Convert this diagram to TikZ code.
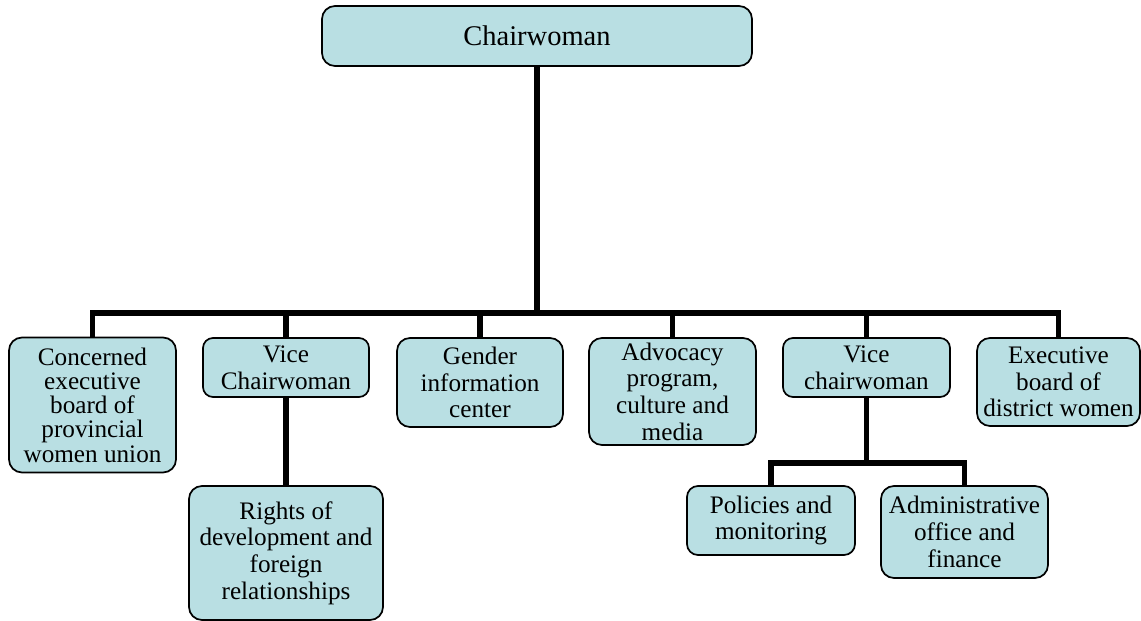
\documentclass[tikz,border=0pt]{standalone}
\usepackage{fontspec}
\setmainfont{Liberation Serif}
\definecolor{boxfill}{RGB}{185,223,227}
\tikzset{
  orgbox/.style={draw=black, line width=1.7pt, fill=boxfill, rounded corners=13pt,
    align=center, inner sep=0pt, font=\fontsize{25.2}{26.7}\selectfont},
  conn/.style={draw=black, line width=5.5pt, line join=miter}
}
\begin{document}
\begin{tikzpicture}[x=1pt,y=-1pt]
\useasboundingbox (0,0) rectangle (1141,621);

% boxes
\node[orgbox, minimum width=430, minimum height=60, font=\fontsize{28.5}{30}\selectfont] (chair) at (537,36) {Chairwoman};
\node[orgbox, minimum width=167, minimum height=135, font=\fontsize{25.2}{24.2}\selectfont] (concerned) at (92.5,405) {Concerned\\executive\\board of\\provincial\\women union};
\node[orgbox, minimum width=166, minimum height=59, rounded corners=10pt] (vice1) at (286,367.5) {Vice\\Chairwoman};
\node[orgbox, minimum width=166, minimum height=89] (gender) at (480,382.5) {Gender\\information\\center};
\node[orgbox, minimum width=167, minimum height=107] (advocacy) at (672.5,391.5) {Advocacy\\program,\\culture and\\media};
\node[orgbox, minimum width=167, minimum height=59, rounded corners=10pt] (vice2) at (866.5,367.5) {Vice\\chairwoman};
\node[orgbox, minimum width=163, minimum height=88] (exec) at (1058.5,382) {Executive\\board of\\district women};
\node[orgbox, minimum width=194, minimum height=134] (rights) at (286,553) {Rights of\\development and\\foreign\\relationships};
\node[orgbox, minimum width=168, minimum height=69, rounded corners=11pt] (policies) at (771,520.5) {Policies and\\monitoring};
\node[orgbox, minimum width=167, minimum height=92] (admin) at (964.5,532) {Administrative\\office and\\finance};

% junction points
\coordinate (bus) at (537,313);
\coordinate (sub) at (866.5,463);

% connectors
\draw[conn] (chair.south) -- (bus);
\draw[conn] (concerned.north) |- (exec.north |- bus) -- (exec.north);
\draw[conn] (vice1.north) -- (vice1.north |- bus);
\draw[conn] (gender.north) -- (gender.north |- bus);
\draw[conn] (advocacy.north) -- (advocacy.north |- bus);
\draw[conn] (vice2.north) -- (vice2.north |- bus);
\draw[conn] (vice1.south) -- (rights.north);
\draw[conn] (vice2.south) -- (sub);
\draw[conn] (policies.north) |- (sub) -| (admin.north);
\end{tikzpicture}
\end{document}
